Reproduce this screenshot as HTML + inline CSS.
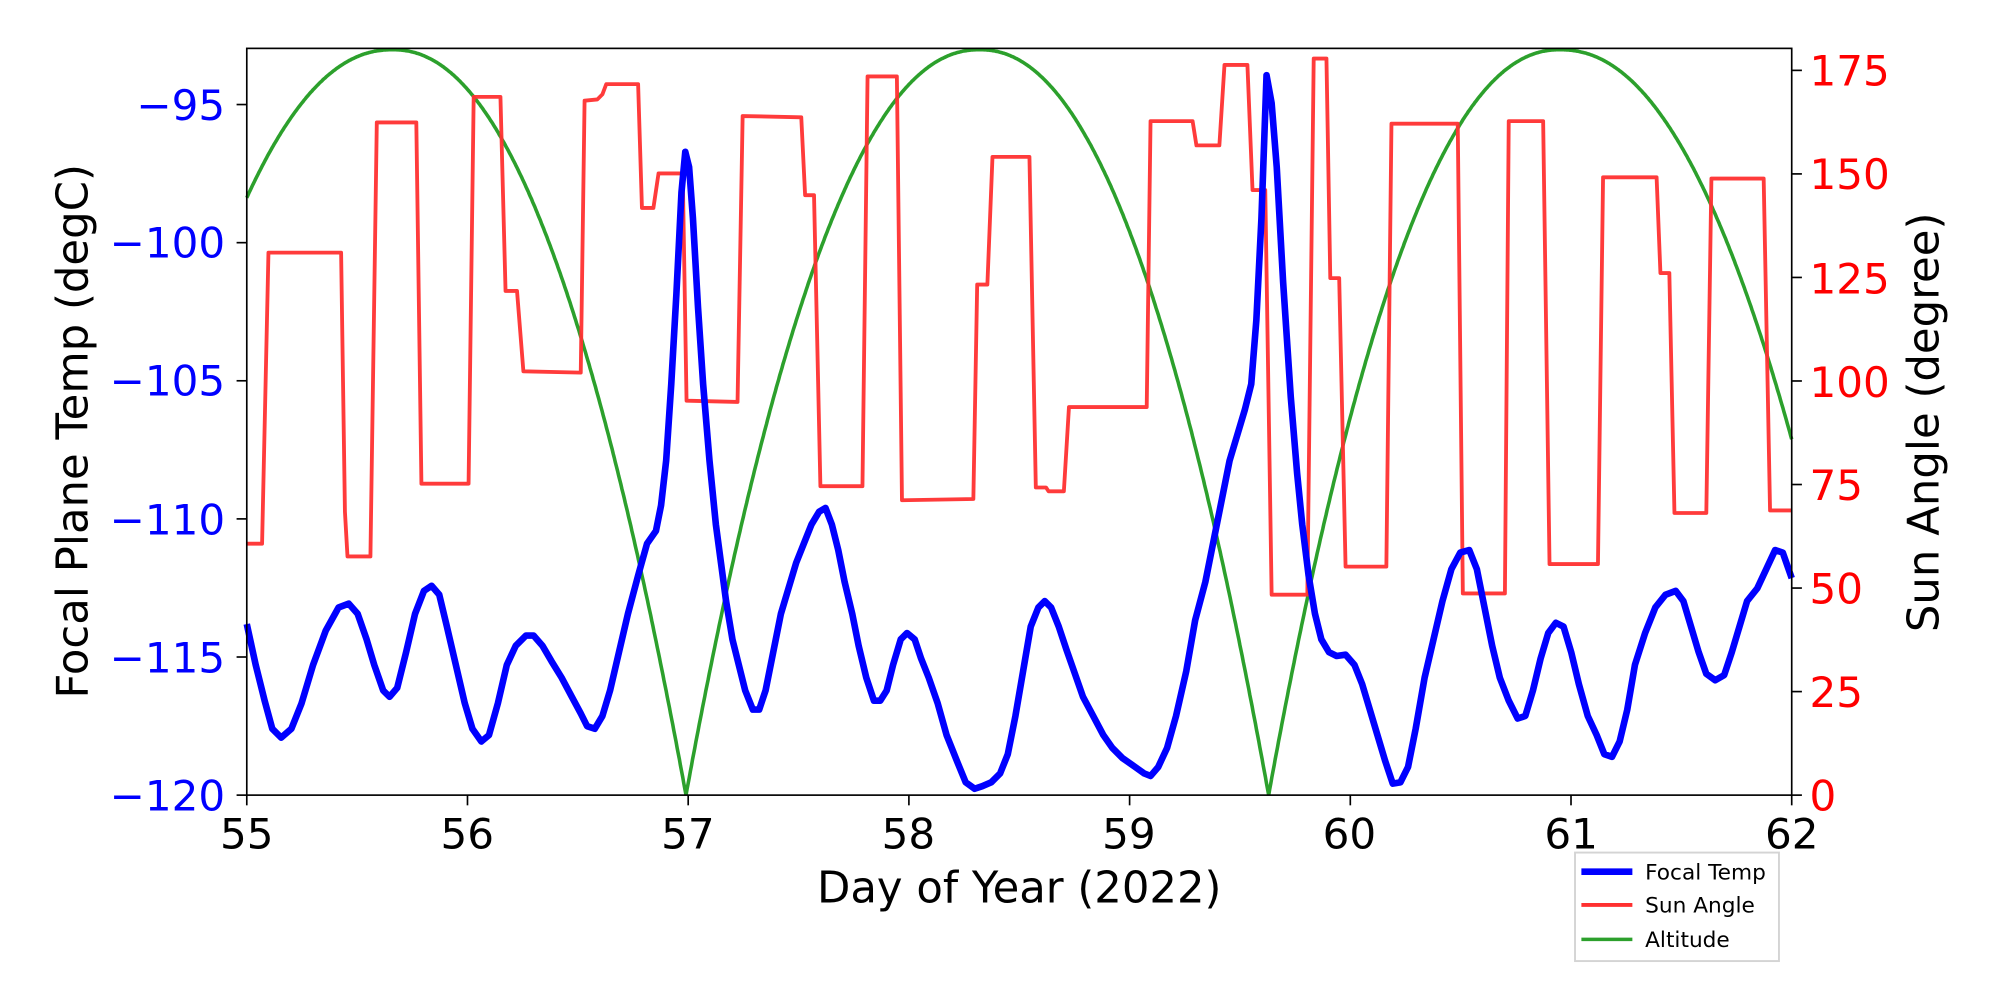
<!DOCTYPE html>
<html><head><meta charset="utf-8"><style>
html,body{margin:0;padding:0;background:#fff;}
svg{display:block;}
text{font-family:"DejaVu Sans","Liberation Sans",sans-serif;}
</style></head><body>
<svg id="s" width="2000" height="1000" viewBox="-0.6 -0.9 1569 783.4" preserveAspectRatio="none" xmlns="http://www.w3.org/2000/svg">
<rect x="-5" y="-5" width="1600" height="800" fill="#fff"/>
<g id="plot">
<path id="green" fill="none" stroke="#2ca02c" stroke-width="2.8" d=""/>
<polyline fill="none" stroke="#ff3030" stroke-opacity="0.95" stroke-width="3" stroke-linejoin="round" points="193,425 205,425 210,197 267,197 270,400 272,435 290,435 295,95 326,95 330,378 367,378 371,75 392,75 396,227 405,227 410,290 455,291 458,78 468,77 472,73 475,65 500,65 503,162 512,162 516,135 535,135 538,313 578,314 582,90 628,91 631,152 638,152 643,380 676,380 680,59 703,59 707,391 763,390 766,222 774,222 778,122 807,122 812,381 820,381 822,384 834,384 838,318 899,318 902,94 935,94 938,113 956,113 960,50 978,50 982,148 992,148 997,465 1025,465 1030,45 1040,45 1043,217 1050,217 1055,443 1087,443 1091,96 1143,96 1147,464 1180,464 1183,94 1210,94 1215,441 1253,441 1257,138 1299,138 1302,213 1309,213 1313,401 1338,401 1342,139 1383,139 1388,399 1405,399"/>
<polyline fill="none" stroke="#0000ff" stroke-width="5.2" stroke-linejoin="round" points="193,488 200,520 207,548 213,570 220,577 228,570 236,550 245,520 255,493 265,475 273,472 280,480 287,500 293,520 300,540 305,545 311,538 318,510 325,480 332,462 338,458 344,465 350,490 357,520 364,550 370,570 377,580 383,575 390,550 397,520 404,505 412,497 418,497 425,505 432,517 440,530 448,545 455,558 460,568 466,570 472,560 478,540 485,510 492,480 500,450 507,425 514,415 518,395 522,360 526,300 530,230 534,150 537,118 540,130 543,170 547,240 551,300 556,360 561,410 565,440 569,470 574,500 579,520 584,540 590,555 595,555 600,540 606,510 612,480 618,460 624,440 630,425 636,410 642,400 647,397 652,410 657,430 662,455 668,480 673,505 679,530 685,548 690,548 695,540 700,520 706,500 711,495 717,500 722,515 728,530 735,550 742,575 750,595 757,612 764,617 770,615 777,612 784,605 790,590 796,560 802,525 808,490 814,475 819,470 824,475 830,490 836,508 842,525 849,545 857,560 865,575 872,585 880,593 890,600 897,605 902,607 908,600 915,585 922,560 930,525 937,485 945,455 952,420 958,390 964,360 970,340 976,320 981,300 985,250 989,170 993,58 997,80 1001,130 1006,220 1012,310 1017,370 1021,410 1026,450 1031,480 1036,500 1042,510 1048,513 1055,512 1062,520 1068,535 1074,555 1080,575 1086,595 1092,613 1098,612 1104,600 1110,570 1117,530 1124,500 1131,470 1138,445 1145,432 1152,430 1158,445 1164,475 1170,505 1176,530 1183,548 1190,562 1196,560 1202,540 1208,515 1214,495 1220,487 1226,490 1232,510 1238,535 1245,560 1252,575 1258,590 1264,592 1270,580 1276,555 1282,520 1290,495 1298,475 1306,465 1314,462 1320,470 1326,490 1332,510 1338,527 1345,532 1352,528 1358,510 1364,490 1370,470 1378,460 1385,445 1392,430 1398,432 1405,452"/>
</g>
<rect x="193" y="37" width="1212" height="585" fill="none" stroke="#000" stroke-width="1.3"/>
<g id="ticks"></g>
<g font-size="33" fill="#000" text-anchor="middle">
<text x="193" y="664">55</text><text x="366" y="664">56</text><text x="539" y="664">57</text><text x="712" y="664">58</text><text x="885" y="664">59</text><text x="1058" y="664">60</text><text x="1232" y="664">61</text><text x="1405" y="664">62</text>
</g>
<text x="799" y="706" font-size="34" text-anchor="middle">Day of Year (2022)</text>
<g font-size="33" fill="#0000ff" text-anchor="end">
<text x="176" y="93">−95</text><text x="176" y="201">−100</text><text x="176" y="309">−105</text><text x="176" y="418">−110</text><text x="176" y="526">−115</text><text x="176" y="634">−120</text>
</g>
<text transform="translate(68,337) rotate(-90)" font-size="34" text-anchor="middle">Focal Plane Temp (degC)</text>
<g font-size="33" fill="#ff0000" text-anchor="start">
<text x="1419" y="634">0</text><text x="1419" y="553">25</text><text x="1419" y="472">50</text><text x="1419" y="391">75</text><text x="1419" y="310">100</text><text x="1419" y="229">125</text><text x="1419" y="147">150</text><text x="1419" y="66">175</text>
</g>
<text transform="translate(1520,330) rotate(-90)" font-size="34" text-anchor="middle">Sun Angle (degree)</text>
<rect x="1235" y="667" width="160" height="85" fill="#fff" stroke="#d4d4d4" stroke-width="1.5"/>
<line x1="1240" y1="682" x2="1280" y2="682" stroke="#0000ff" stroke-width="5.2"/>
<line x1="1240" y1="708" x2="1280" y2="708" stroke="#ff3030" stroke-width="3"/>
<line x1="1240" y1="735" x2="1280" y2="735" stroke="#2ca02c" stroke-width="2.8"/>
<g font-size="17" fill="#000"><text x="1290" y="688">Focal Temp</text><text x="1290" y="714">Sun Angle</text><text x="1290" y="741">Altitude</text></g>
</svg>
<script>
(function(){
var X=function(t){return 193+(t-55)*173.142857;};
var Y=function(v){return 622-v*3.2444;};
function alt(t){
 var p,h;
 if(t<56.99){p=55.66;h=(t<55.66)?1.4:1.33;}
 else if(t<59.63){p=58.32;h=(t<58.32)?1.33:1.31;}
 else {p=60.95;h=(t<60.95)?1.32:1.42;}
 var u=Math.abs(t-p)/h; if(u>1)u=1;
 return 180*(1-Math.pow(u,2.15));
}
var pts=[];for(var i=0;i<=1400;i++){var t=55+7*i/1400;pts.push([t,alt(t)]);}
pts.push([56.99,0],[59.63,0]);pts.sort(function(a,b){return a[0]-b[0];});
var d="";pts.forEach(function(p,i){d+=(i?"L":"M")+X(p[0]).toFixed(1)+","+Y(p[1]).toFixed(1);});
document.getElementById("green").setAttribute("d",d);
var g=document.getElementById("ticks"),s="";
for(var k=0;k<8;k++){var x=X(55+k);s+='<line x1="'+x+'" y1="622" x2="'+x+'" y2="630" stroke="#000" stroke-width="1.3"/>';}
for(var k=0;k<6;k++){var y=622-k*108.2;s+='<line x1="185" y1="'+y+'" x2="193" y2="'+y+'" stroke="#000" stroke-width="1.3"/>';}
for(var k=0;k<8;k++){var y=622-k*81.11;s+='<line x1="1405" y1="'+y+'" x2="1413" y2="'+y+'" stroke="#000" stroke-width="1.3"/>';}
g.innerHTML=s;
})();
</script>
</body></html>
